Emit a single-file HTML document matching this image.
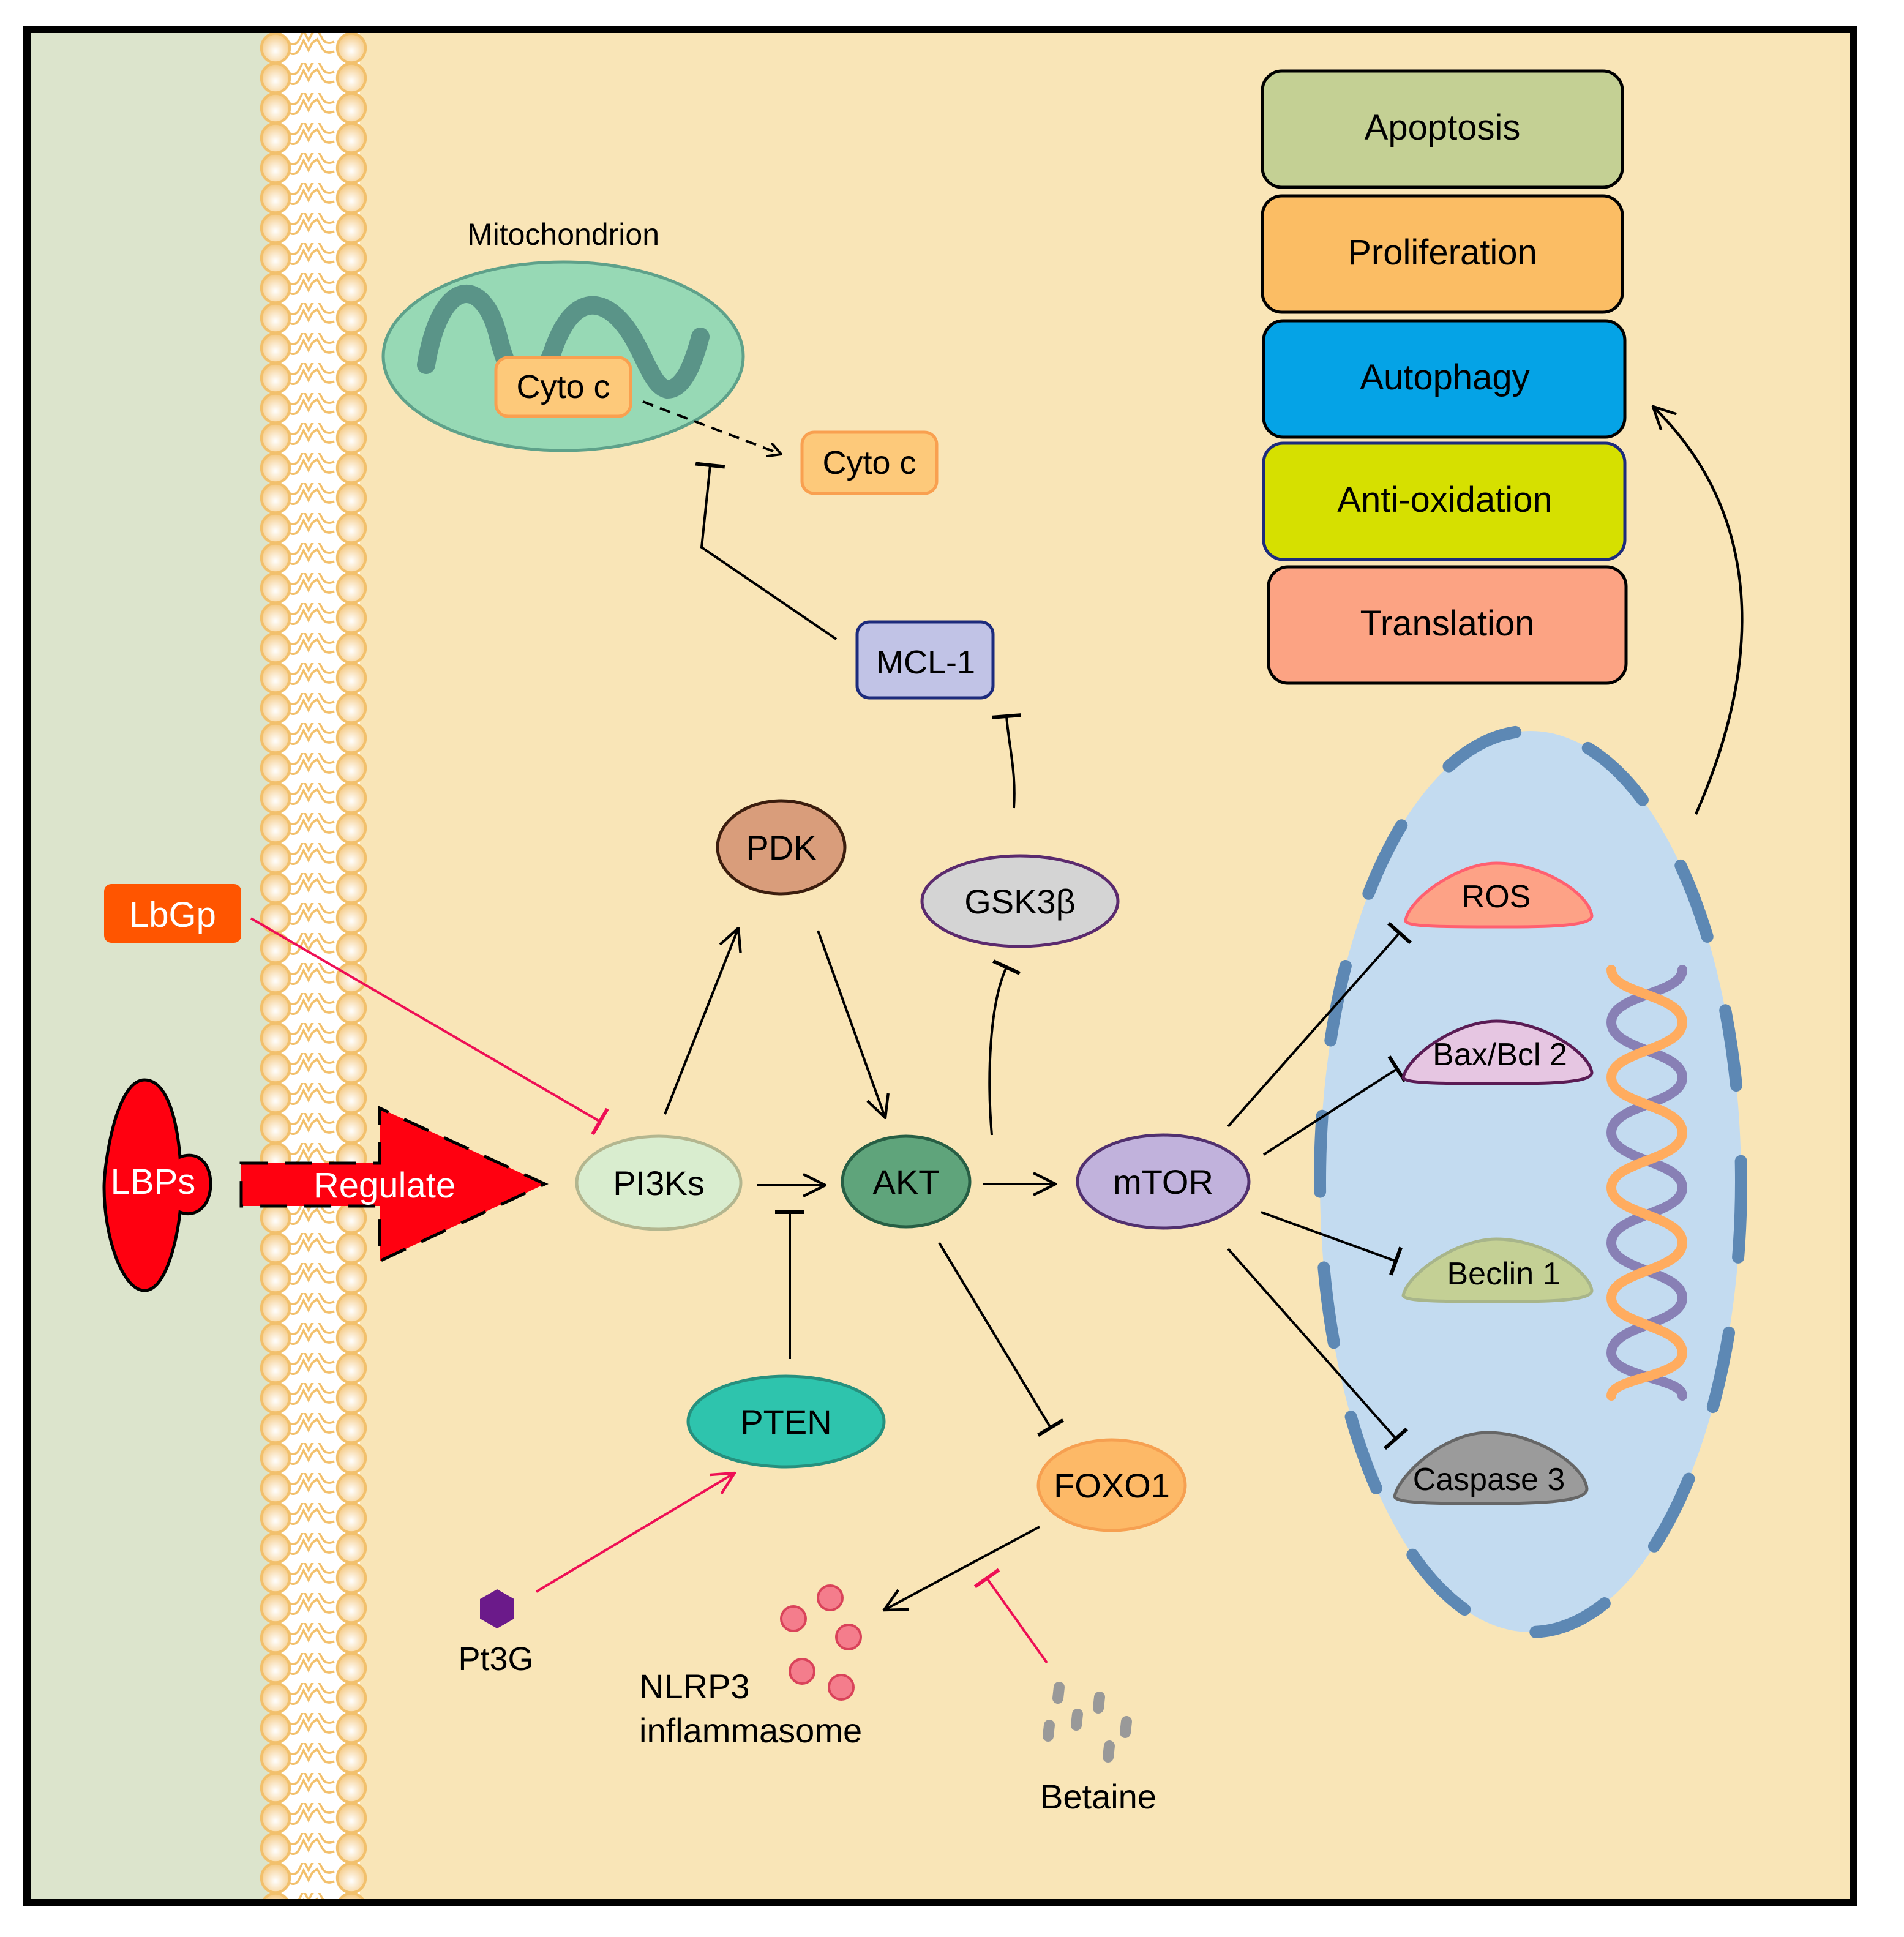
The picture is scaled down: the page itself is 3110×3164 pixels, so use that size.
<!DOCTYPE html>
<html><head><meta charset="utf-8"><style>
html,body{margin:0;padding:0;background:#fff;}
svg{display:block;}
text{font-family:"Liberation Sans",Arial,sans-serif;}
</style></head><body>
<svg width="3110" height="3164" viewBox="0 0 1555 1582" xmlns="http://www.w3.org/2000/svg">
<defs>
<radialGradient id="hg" cx="0.5" cy="0.6" r="0.6">
<stop offset="0" stop-color="#ffffff"/><stop offset="1" stop-color="#f4c77e"/>
</radialGradient>
<pattern id="mem" x="0" y="27" width="1555" height="24.5" patternUnits="userSpaceOnUse">
<path d="M236,8 q5,3 8,-2 l4,-8 l4,8 l3,-6 l4,-3 l4,7 q3,6 10,3" fill="none" stroke="#f2c06c" stroke-width="1.8"/>
<path d="M236,16 q5,3 8,-2 l4,-8 l4,8 l3,-6 l4,-3 l4,7 q3,6 10,3" fill="none" stroke="#f2c06c" stroke-width="1.8"/>
<ellipse cx="225" cy="12.25" rx="11.5" ry="12" fill="url(#hg)" stroke="#f2c06c" stroke-width="2.2"/>
<ellipse cx="287" cy="12.25" rx="11.5" ry="12" fill="url(#hg)" stroke="#f2c06c" stroke-width="2.2"/>
</pattern>
<marker id="ar" viewBox="0 0 12 12" refX="11" refY="6" markerWidth="12" markerHeight="12" markerUnits="userSpaceOnUse" orient="auto">
<path d="M0,0 L11,6 L0,12" fill="none" stroke="#000" stroke-width="2"/></marker>
<marker id="arb" viewBox="0 0 20 20" refX="19" refY="10" markerWidth="20" markerHeight="20" markerUnits="userSpaceOnUse" orient="auto">
<path d="M1,1 L19,10 L1,19" fill="none" stroke="#000" stroke-width="2.2"/></marker>
<marker id="arr" viewBox="0 0 20 20" refX="19" refY="10" markerWidth="20" markerHeight="20" markerUnits="userSpaceOnUse" orient="auto">
<path d="M1,1 L19,10 L1,19" fill="none" stroke="#ee0f55" stroke-width="2.2"/></marker>
<marker id="tb" viewBox="0 0 6 24" refX="3" refY="12" markerWidth="6" markerHeight="24" markerUnits="userSpaceOnUse" orient="auto">
<line x1="3" y1="0" x2="3" y2="24" stroke="#000" stroke-width="3"/></marker>
<marker id="tr" viewBox="0 0 6 24" refX="3" refY="12" markerWidth="6" markerHeight="24" markerUnits="userSpaceOnUse" orient="auto">
<line x1="3" y1="0" x2="3" y2="24" stroke="#ee0f55" stroke-width="3"/></marker>
</defs>

<rect x="22" y="24" width="1492" height="1530" fill="#f9e5b7"/>
<rect x="22" y="24" width="198" height="1530" fill="#dce4cc"/>
<rect x="220" y="24" width="74" height="1530" fill="#ffffff"/>
<rect x="205" y="24" width="100" height="1530" fill="url(#mem)"/>
<rect x="22" y="24" width="1492" height="1530" fill="none" stroke="#000" stroke-width="6"/>

<g stroke="#000" stroke-width="2.5">
<rect x="1031" y="58" width="294" height="95" rx="16" fill="#c4d094"/>
<rect x="1031" y="160" width="294" height="95" rx="16" fill="#fbbd64"/>
<rect x="1032" y="262" width="295" height="95" rx="16" fill="#05a3e6"/>
<rect x="1032" y="362" width="295" height="95" rx="16" fill="#d6e000" stroke="#1d2b7c"/>
<rect x="1036" y="463" width="292" height="95" rx="16" fill="#fca383"/>
</g>
<g font-size="29" text-anchor="middle" fill="#000">
<text x="1178" y="114">Apoptosis</text>
<text x="1178" y="216">Proliferation</text>
<text x="1180" y="318">Autophagy</text>
<text x="1180" y="418">Anti-oxidation</text>
<text x="1182" y="519">Translation</text>
</g>

<text x="460" y="200" font-size="25" text-anchor="middle">Mitochondrion</text>
<ellipse cx="460" cy="291" rx="147" ry="77" fill="#97d9b5" stroke="#5ea18a" stroke-width="2.5"/>
<path d="M348,298 C360,225 395,225 407,275 C420,330 440,320 452,285 C465,248 485,240 505,260 C525,280 530,315 545,318 C560,318 568,290 572,275" fill="none" stroke="#5a9488" stroke-width="15" stroke-linecap="round"/>
<rect x="405" y="292" width="110" height="48" rx="10" fill="#fdc97a" stroke="#f9a050" stroke-width="2.5"/>
<text x="460" y="325" font-size="27" text-anchor="middle">Cyto c</text>
<line x1="525" y1="328" x2="638" y2="371" stroke="#000" stroke-width="2" stroke-dasharray="9,6" marker-end="url(#ar)"/>
<rect x="655" y="353" width="110" height="50" rx="10" fill="#fdc97a" stroke="#f9a050" stroke-width="2.5"/>
<text x="710" y="387" font-size="27" text-anchor="middle">Cyto c</text>

<polyline points="683,522 573,447 580,380" fill="none" stroke="#000" stroke-width="2" marker-end="url(#tb)"/>
<rect x="700" y="508" width="111" height="62" rx="10" fill="#c1c3e6" stroke="#1d2b7c" stroke-width="2.5"/>
<text x="756" y="550" font-size="27" text-anchor="middle">MCL-1</text>

<path d="M828,660 C830,630 824,610 822,585" fill="none" stroke="#000" stroke-width="2" marker-end="url(#tb)"/>
<path d="M810,927 C806,880 808,820 822,790" fill="none" stroke="#000" stroke-width="2" marker-end="url(#tb)"/>
<line x1="543" y1="910" x2="603" y2="758" stroke="#000" stroke-width="2" marker-end="url(#arb)"/>
<line x1="668" y1="760" x2="723" y2="913" stroke="#000" stroke-width="2" marker-end="url(#arb)"/>
<line x1="618" y1="968" x2="674" y2="968" stroke="#000" stroke-width="2" marker-end="url(#arb)"/>
<line x1="803" y1="967" x2="862" y2="967" stroke="#000" stroke-width="2" marker-end="url(#arb)"/>
<line x1="645" y1="1110" x2="645" y2="990" stroke="#000" stroke-width="2" marker-end="url(#tb)"/>
<line x1="767" y1="1015" x2="858" y2="1166" stroke="#000" stroke-width="2" marker-end="url(#tb)"/>
<line x1="205" y1="750" x2="490" y2="916" stroke="#ee0f55" stroke-width="2" marker-end="url(#tr)"/>
<line x1="438" y1="1300" x2="600" y2="1203" stroke="#ee0f55" stroke-width="2" marker-end="url(#arr)"/>
<line x1="849" y1="1247" x2="722" y2="1315" stroke="#000" stroke-width="2" marker-end="url(#arb)"/>
<line x1="855" y1="1358" x2="806" y2="1289" stroke="#ee0f55" stroke-width="2" marker-end="url(#tr)"/>

<ellipse cx="1250" cy="965" rx="172" ry="368" fill="#c3dbf0"/>
<ellipse cx="1250" cy="965" rx="172" ry="368" fill="none" stroke="#5d88b4" stroke-width="10" stroke-linecap="round" stroke-dasharray="62,62"/>
<path d="M1385,665 C1440,540 1440,420 1350,332" fill="none" stroke="#000" stroke-width="2.2" marker-end="url(#arb)"/>

<line x1="1003" y1="920" x2="1143" y2="762" stroke="#000" stroke-width="2" marker-end="url(#tb)"/>
<line x1="1032" y1="943" x2="1141" y2="873" stroke="#000" stroke-width="2" marker-end="url(#tb)"/>
<line x1="1030" y1="990" x2="1140" y2="1030" stroke="#000" stroke-width="2" marker-end="url(#tb)"/>
<line x1="1003" y1="1020" x2="1140" y2="1175" stroke="#000" stroke-width="2" marker-end="url(#tb)"/>

<g stroke-width="2.5">
<path d="M1148,752 C1150,735 1190,705 1222,705 C1260,705 1298,730 1300,748 C1300,757 1260,757 1222,757 C1180,757 1148,757 1148,752 Z" fill="#fda286" stroke="#ff6070"/>
<path d="M1146,880 C1150,862 1190,834 1222,834 C1260,834 1298,860 1300,876 C1300,885 1260,885 1222,885 C1180,885 1146,885 1146,880 Z" fill="#e6c6e2" stroke="#5a1b54"/>
<path d="M1146,1058 C1150,1040 1190,1012 1222,1012 C1260,1012 1298,1038 1300,1054 C1300,1063 1260,1063 1222,1063 C1180,1063 1146,1063 1146,1058 Z" fill="#c4d095" stroke="#a8b58a"/>
<path d="M1139,1222 C1143,1204 1180,1170 1215,1170 C1255,1170 1295,1198 1296,1216 C1296,1227 1255,1228 1215,1228 C1175,1228 1139,1228 1139,1222 Z" fill="#9b9b9b" stroke="#666"/>
</g>
<g font-size="26" text-anchor="middle">
<text x="1222" y="741">ROS</text>
<text x="1225" y="870">Bax/Bcl 2</text>
<text x="1228" y="1049">Beclin 1</text>
<text x="1216" y="1217">Caspase 3</text>
</g>

<path d="M1374,792 C1374,812 1316,812 1316,835 C1316,858 1374,858 1374,880 C1374,902 1316,902 1316,925 C1316,948 1374,948 1374,970 C1374,992 1316,992 1316,1015 C1316,1038 1374,1038 1374,1060 C1374,1082 1316,1082 1316,1105 C1316,1125 1374,1125 1374,1140" fill="none" stroke="#8880b5" stroke-width="8" stroke-linecap="round"/>
<path d="M1316,792 C1316,812 1374,812 1374,835 C1374,858 1316,858 1316,880 C1316,902 1374,902 1374,925 C1374,948 1316,948 1316,970 C1316,992 1374,992 1374,1015 C1374,1038 1316,1038 1316,1060 C1316,1082 1374,1082 1374,1105 C1374,1125 1316,1125 1316,1140" fill="none" stroke="#ffac5f" stroke-width="8" stroke-linecap="round"/>

<g stroke-width="2.5">
<ellipse cx="638" cy="692" rx="52" ry="38" fill="#d99d7b" stroke="#3b1d0e"/>
<ellipse cx="833" cy="736" rx="80" ry="37" fill="#d4d4d4" stroke="#5b2a6e"/>
<ellipse cx="538" cy="966" rx="67" ry="38" fill="#d9edcf" stroke="#b3b68f"/>
<ellipse cx="740" cy="965" rx="52" ry="37" fill="#5fa47b" stroke="#275e44"/>
<ellipse cx="950" cy="965" rx="70" ry="38" fill="#c1b2dc" stroke="#51306f"/>
<ellipse cx="642" cy="1161" rx="80" ry="37" fill="#2ec4ad" stroke="#26907e"/>
<ellipse cx="908" cy="1213" rx="60" ry="37" fill="#fdb967" stroke="#f6a051"/>
</g>
<g font-size="28" text-anchor="middle">
<text x="638" y="702">PDK</text>
<text x="833" y="746">GSK3β</text>
<text x="538" y="976">PI3Ks</text>
<text x="740" y="975">AKT</text>
<text x="950" y="975">mTOR</text>
<text x="642" y="1171">PTEN</text>
<text x="908" y="1223">FOXO1</text>
</g>

<rect x="85" y="722" width="112" height="48" rx="6" fill="#ff5500"/>
<text x="141" y="757" font-size="29" fill="#fff" text-anchor="middle">LbGp</text>
<path d="M118,882 C95,882 85,950 85,970 C85,1010 100,1054 118,1054 C136,1054 145,1010 147,990 C160,995 172,985 172,967 C172,948 160,940 147,945 C145,920 138,882 118,882 Z" fill="#ff0010" stroke="#000" stroke-width="2.5"/>
<text x="125" y="975" font-size="29" fill="#fff" text-anchor="middle">LBPs</text>
<path d="M197,950 L310,950 L310,905 L445,967 L310,1030 L310,985 L197,985 Z" fill="#ff0010" stroke="#000" stroke-width="2.5" stroke-dasharray="22,14"/>
<text x="314" y="978" font-size="29" fill="#fff" text-anchor="middle">Regulate</text>

<polygon points="406,1298 420,1306 420,1322 406,1330 392,1322 392,1306" fill="#6b1a8a"/>
<text x="405" y="1364" font-size="27" text-anchor="middle">Pt3G</text>

<g fill="#f47d8c" stroke="#d9435a" stroke-width="2">
<circle cx="648" cy="1322" r="10"/><circle cx="678" cy="1305" r="10"/><circle cx="693" cy="1337" r="10"/>
<circle cx="655" cy="1365" r="10"/><circle cx="687" cy="1378" r="10"/>
</g>
<text x="522" y="1387" font-size="28">NLRP3</text>
<text x="522" y="1423" font-size="28">inflammasome</text>

<g stroke="#999" stroke-width="9" stroke-linecap="round">
<line x1="865" y1="1378" x2="864" y2="1387"/><line x1="880" y1="1400" x2="879" y2="1409"/>
<line x1="898" y1="1386" x2="897" y2="1395"/><line x1="857" y1="1409" x2="856" y2="1418"/>
<line x1="906" y1="1426" x2="905" y2="1435"/><line x1="920" y1="1406" x2="919" y2="1415"/>
</g>
<text x="897" y="1477" font-size="28" text-anchor="middle">Betaine</text>
</svg>
</body></html>
